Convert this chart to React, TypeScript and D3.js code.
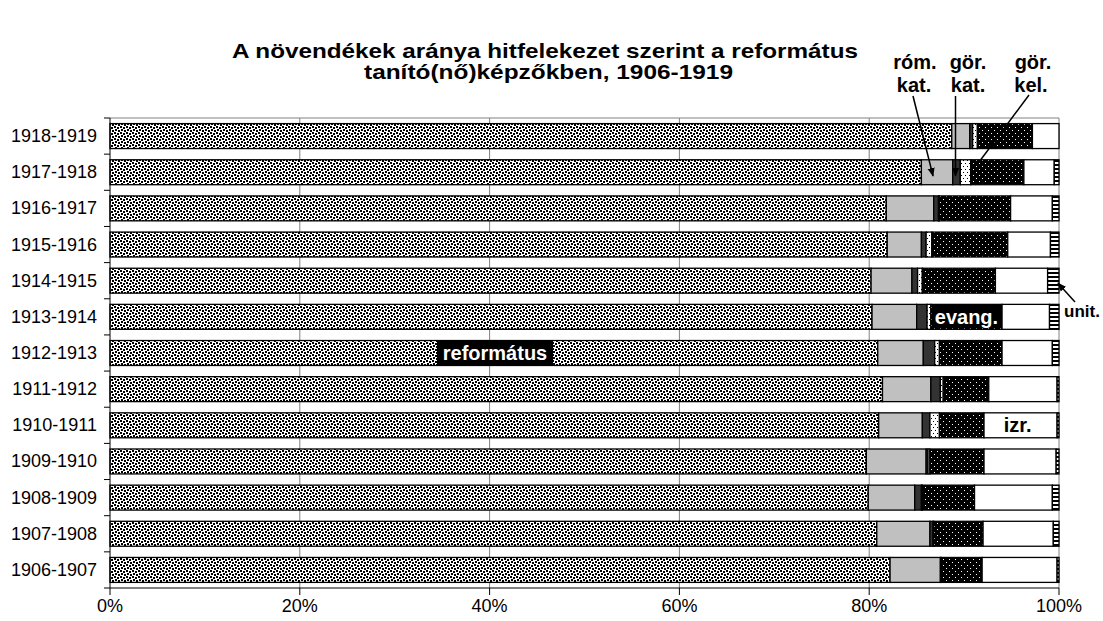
import * as d3 from 'd3'
import React from 'react'

// school years, top to bottom as in the chart
const years = [
  '1918-1919', '1917-1918', '1916-1917', '1915-1916', '1914-1915', '1913-1914',
  '1912-1913', '1911-1912', '1910-1911', '1909-1910', '1908-1909', '1907-1908', '1906-1907',
]

// shares in percent, one array per denomination, same order as years
const reformatus = [88.7, 85.5, 81.8, 81.9, 80.2, 80.3, 80.9, 81.4, 81.0, 79.7, 79.9, 80.8, 82.2]
const romKat = [1.9, 3.3, 5.0, 3.6, 4.3, 4.7, 4.8, 5.1, 4.6, 6.3, 4.9, 5.6, 5.3]
const gorKat = [0.3, 0.8, 0.5, 0.5, 0.6, 1.1, 1.2, 1.0, 0.8, 0.2, 0.7, 0.3, 0.1]
const gorKel = [0.5, 1.1, 0.1, 0.6, 0.5, 0.4, 0.5, 0.3, 1.0, 0.2, 0.1, 0.1, 0.0]
const evang = [5.8, 5.6, 7.5, 8.0, 7.7, 7.5, 6.6, 4.8, 4.7, 5.7, 5.5, 5.2, 4.3]
const izr = [2.8, 3.2, 4.4, 4.5, 5.5, 5.0, 5.3, 7.2, 7.7, 7.6, 8.2, 7.4, 7.9]
const unit = [0.0, 0.5, 0.7, 0.9, 1.2, 1.0, 0.7, 0.2, 0.2, 0.3, 0.7, 0.6, 0.2]

const seriesKeys = ['ref', 'rom', 'gkat', 'gkel', 'evang', 'izr', 'unit']
const xTicks = [0, 20, 40, 60, 80, 100]

const FONT = '"Liberation Sans", Arial, sans-serif'

const fills: Record<string, string> = {
  ref: 'url(#pRef)',
  rom: '#c0c0c0',
  gkat: '#333333',
  gkel: 'url(#pKel)',
  evang: 'url(#pEv)',
  izr: '#ffffff',
  unit: 'url(#pUnit)',
}

export default function App() {
  const width = 1103
  const height = 621
  const left = 110, right = 1059, top = 118, bottom = 588

  const rows = years.map((y, i) => ({
    year: y,
    ref: reformatus[i], rom: romKat[i], gkat: gorKat[i], gkel: gorKel[i],
    evang: evang[i], izr: izr[i], unit: unit[i],
  }))
  const stacked = d3.stack<any>().keys(seriesKeys)(rows)

  const x = d3.scaleLinear().domain([0, 100]).range([left, right])
  const y = d3.scaleBand().domain(years).range([top, bottom]).paddingInner(0.31).paddingOuter(0.155)
  const step = y.step()

  const bandEdges = d3.range(years.length + 1).map(i => top + i * step)

  const rowY = (yr: string) => y(yr) as number
  const bh = y.bandwidth()

  // helpers for annotation positions
  const segX = (key: string, yr: string) => {
    const s = stacked.find(s => s.key === key)!
    const d = s[years.indexOf(yr)]
    return [x(d[0]), x(d[1])]
  }
  const [evX0, evX1] = segX('evang', '1913-1914')
  const [izX0, izX1] = segX('izr', '1910-1911')
  const [rkX0, rkX1] = segX('rom', '1917-1918')
  const [gkX0, gkX1] = segX('gkat', '1917-1918')
  const [, unX1] = segX('unit', '1914-1915')

  return (
    <svg width={width} height={height} style={{ display: 'block', position: 'absolute', left: 0, top: 0 }}>
      <defs>
        <pattern id="pRef" width="6" height="6" patternUnits="userSpaceOnUse">
          <rect width="6" height="6" fill="#fff" />
          <rect x="0" y="0" width="2" height="2" fill="#000" />
          <rect x="3" y="1" width="2" height="2" fill="#000" />
          <rect x="1" y="3" width="2" height="2" fill="#000" />
          <rect x="4" y="4" width="2" height="2" fill="#000" />
        </pattern>
        <pattern id="pEv" width="6" height="6" patternUnits="userSpaceOnUse">
          <rect width="6" height="6" fill="#000" />
          <rect x="1" y="1" width="1" height="1" fill="#fff" />
          <rect x="4" y="4" width="1" height="1" fill="#fff" />
        </pattern>
        <pattern id="pKel" width="4" height="6" patternUnits="userSpaceOnUse">
          <rect width="4" height="6" fill="#fff" />
          <rect x="1" y="1" width="1" height="1" fill="#000" />
          <rect x="3" y="4" width="1" height="1" fill="#000" />
        </pattern>
        <pattern id="pUnit" width="4" height="4" patternUnits="userSpaceOnUse">
          <rect width="4" height="4" fill="#fff" />
          <rect x="0" y="0" width="4" height="2" fill="#000" />
        </pattern>
        <marker id="arr" viewBox="0 0 10 10" refX="9" refY="5" markerWidth="9" markerHeight="9" orient="auto-start-reverse" markerUnits="userSpaceOnUse">
          <path d="M0,1 L10,5 L0,9 z" fill="#000" />
        </marker>
      </defs>

      {/* title */}
      <g fontFamily={FONT} fontWeight="bold" fontSize={21} textAnchor="middle">
        <text x={545} y={58} textLength={626} lengthAdjust="spacingAndGlyphs">
          A növendékek aránya hitfelekezet szerint a református
        </text>
        <text x={548.5} y={79} textLength={369} lengthAdjust="spacingAndGlyphs">
          tanító(nő)képzőkben, 1906-1919
        </text>
      </g>

      {/* plot frame and grid */}
      <line x1={left} x2={right} y1={top} y2={top} stroke="#808080" />
      <line x1={right} x2={right} y1={top} y2={bottom} stroke="#808080" />
      {xTicks.slice(1, -1).map(t => (
        <line key={t} x1={x(t)} x2={x(t)} y1={top} y2={bottom} stroke="#808080" />
      ))}

      {/* bars */}
      {stacked.map(s => (
        <g key={s.key}>
          {s.map((d, i) => (
            d[1] - d[0] > 0 ? (
              <rect key={i} x={x(d[0])} y={rowY(years[i])} width={x(d[1]) - x(d[0])} height={bh}
                fill={fills[s.key]} stroke="#000" strokeWidth={1.3} />
            ) : null
          ))}
        </g>
      ))}

      {/* axes */}
      <line x1={left} x2={left} y1={top} y2={bottom} stroke="#000" />
      {bandEdges.map((e, i) => (
        <line key={i} x1={left - 6} x2={left} y1={e} y2={e} stroke="#000" />
      ))}
      <line x1={left} x2={right} y1={bottom} y2={bottom} stroke="#000" />
      {xTicks.map(t => (
        <line key={t} x1={x(t)} x2={x(t)} y1={bottom} y2={bottom + 7} stroke="#000" />
      ))}
      <g fontFamily={FONT} fontSize={18} fill="#000">
        {years.map(yr => (
          <text key={yr} x={97} y={rowY(yr) + bh / 2} textAnchor="end" dominantBaseline="central">{yr}</text>
        ))}
        {xTicks.map(t => (
          <text key={t} x={x(t)} y={606} textAnchor="middle" dominantBaseline="central">{t}%</text>
        ))}
      </g>

      {/* in-bar labels */}
      <g fontFamily={FONT} fontWeight="bold" fontSize={20}>
        <rect x={437} y={rowY('1912-1913')} width={116} height={bh} fill="#000" />
        <text x={495} y={rowY('1912-1913') + bh / 2} fill="#fff" textAnchor="middle" dominantBaseline="central">református</text>
        <rect x={evX0 + 1} y={rowY('1913-1914') + 1} width={evX1 - evX0 - 2} height={bh - 2} fill="#000" />
        <text x={(evX0 + evX1) / 2} y={rowY('1913-1914') + bh / 2} fill="#fff" textAnchor="middle" dominantBaseline="central">evang.</text>
        <text x={(izX0 + izX1) / 2 - 3} y={rowY('1910-1911') + bh / 2} fill="#000" textAnchor="middle" dominantBaseline="central">izr.</text>
      </g>

      {/* callouts */}
      <g fontFamily={FONT} fontWeight="bold" fontSize={20} textAnchor="middle">
        <text x={915} y={69}>róm.</text>
        <text x={914} y={92}>kat.</text>
        <text x={968} y={69}>gör.</text>
        <text x={968} y={92}>kat.</text>
        <text x={1033} y={69}>gör.</text>
        <text x={1031} y={92}>kel.</text>
        <text x={1064} y={317} fontSize={17} textAnchor="start">unit.</text>
      </g>
      <g stroke="#000" strokeWidth={1.5}>
        <line x1={913} y1={96} x2={(rkX0 + rkX1) / 2 - 4} y2={rowY('1917-1918') + bh * 0.65} markerEnd="url(#arr)" />
        <line x1={(gkX0 + gkX1) / 2 - 1} y1={96} x2={(gkX0 + gkX1) / 2 - 1} y2={rowY('1917-1918') + bh * 0.65} markerEnd="url(#arr)" />
        <line x1={1029} y1={95} x2={980} y2={rowY('1917-1918') + 1} />
        <line x1={1075} y1={302} x2={unX1 - 1} y2={rowY('1914-1915') + bh * 0.6} markerEnd="url(#arr)" />
      </g>
    </svg>
  )
}
